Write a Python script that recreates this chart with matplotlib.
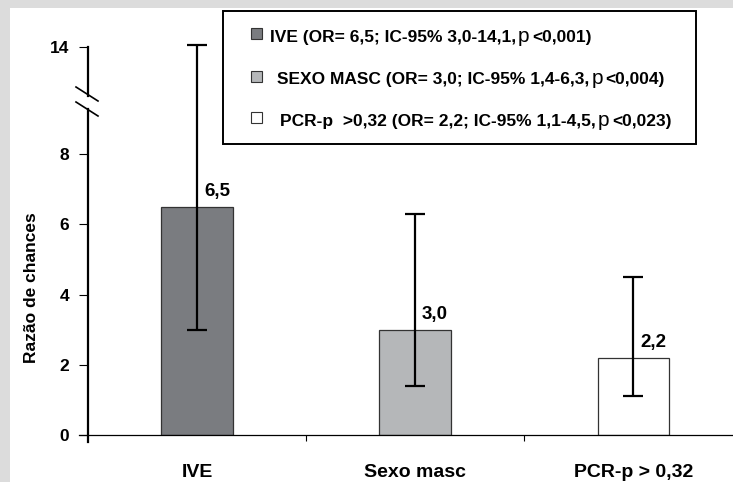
import numpy as np
import matplotlib.pyplot as plt
from matplotlib.patches import Rectangle
from matplotlib.transforms import offset_copy

plt.rcParams['font.family'] = ['Liberation Sans', 'DejaVu Sans']

categories = ['IVE', 'Sexo masc', 'PCR-p > 0,32']
odds_ratio = [6.5, 3.0, 2.2]
ci_low = [3.0, 1.4, 1.1]
ci_high = [14.1, 6.3, 4.5]
value_labels = ['6,5', '3,0', '2,2']
bar_colors = ['#7a7c80', '#b5b7b9', '#ffffff']
yticks = [0, 2, 4, 6, 8, 14]

legend_rows = [
    ('IVE (OR= 6,5; IC-95% 3,0-14,1,', '<0,001)'),
    ('SEXO MASC (OR= 3,0; IC-95% 1,4-6,3,', '<0,004)'),
    ('PCR-p  >0,32 (OR= 2,2; IC-95% 1,1-4,5,', '<0,023)'),
]

# broken y axis: above 8 the scale is compressed
K = 0.508


def fwd(y):
    y = np.asarray(y, dtype=float)
    return np.where(y <= 8, y, 8 + (y - 8) * K)


def inv(y):
    y = np.asarray(y, dtype=float)
    return np.where(y <= 8, y, 8 + (y - 8) / K)


W, H = 733, 482
fig = plt.figure(figsize=(W / 100, H / 100), dpi=100)
fig.patch.set_facecolor('#dcdcdc')
fig.patches.append(Rectangle((10 / W, 0), 1, (H - 8) / H, transform=fig.transFigure,
                             facecolor='white', edgecolor='none', zorder=-1))

ax = fig.add_axes([88 / W, 47 / H, (W - 88) / W, 388 / H])
ax.set_facecolor('none')
ax.set_yscale('function', functions=(fwd, inv))
ax.set_ylim(0, 14)
ax.set_xlim(-0.5, (W - 196) / 218.5)

x = np.arange(len(categories))
ax.bar(x, odds_ratio, width=0.327, color=bar_colors, edgecolor='#333333',
       linewidth=0.9, zorder=2)
ax.errorbar(x, odds_ratio,
            yerr=[np.array(odds_ratio) - ci_low, np.array(ci_high) - odds_ratio],
            fmt='none', ecolor='black', elinewidth=1.6, capsize=7.5, capthick=1.6,
            clip_on=False, zorder=3)
for i, (v, lab) in enumerate(zip(odds_ratio, value_labels)):
    ax.annotate(lab, (i, v), xytext=(5, 5), textcoords='offset points',
                ha='left', va='bottom', fontsize=13.5, fontweight='bold')

for s in ax.spines.values():
    s.set_visible(False)

# axis lines drawn by hand so the break can be shown
tr = ax.transAxes
ax.plot([-9 / 645, 1], [0, 0], color='black', lw=0.9, transform=tr, clip_on=False)
ax.plot([0, 0], [1, (435 - 96) / 388], color='black', lw=1.6, transform=tr, clip_on=False)
ax.plot([0, 0], [(435 - 109) / 388, -7 / 388], color='black', lw=1.6, transform=tr,
        clip_on=False)
for y0 in (87, 102):
    ax.plot([-12 / 645, 10 / 645], [(435 - y0) / 388, (435 - y0 - 14) / 388],
            color='black', lw=1.2, transform=tr, clip_on=False)

ax.set_yticks(yticks)
ax.set_yticklabels([str(t) for t in yticks])
ax.yaxis.set_minor_locator(plt.NullLocator())
ax.tick_params(axis='y', direction='out', length=6.5, width=0.8, pad=7,
               labelsize=12.5)
for t in ax.get_yticklabels():
    t.set_fontweight('bold')

ax.set_xticks(x)
ax.set_xticklabels(categories, fontsize=14, fontweight='bold')
ax.set_xticks([0.5, 1.5], minor=True)
ax.tick_params(axis='x', which='major', length=0, pad=21)
ax.tick_params(axis='x', which='minor', direction='out', length=4.5, width=0.8)

ax.text(-0.088, 0.379, 'Razão de chances', transform=tr, rotation=90,
        ha='center', va='center', fontsize=12.5, fontweight='bold')

# legend box with mixed-style text
fig.patches.append(Rectangle((223 / W, 1 - 144 / H), (696 - 223) / W, (144 - 11) / H,
                             transform=fig.transFigure, facecolor='white',
                             edgecolor='black', linewidth=1.4, zorder=5))
renderer = fig.canvas.get_renderer()
sq_tops = [28, 71, 112]
text_x = [270, 277, 280]
baselines = [42, 84, 126]
for (bold_part, tail), color, st, tx, bl in zip(legend_rows, bar_colors, sq_tops,
                                                text_x, baselines):
    fig.patches.append(Rectangle((251 / W, 1 - (st + 11) / H), 11 / W, 11 / H,
                                 transform=fig.transFigure, facecolor=color,
                                 edgecolor='#333333', linewidth=0.8, zorder=6))
    t1 = fig.text(tx / W, 1 - bl / H, bold_part, fontsize=12.5, fontweight='bold',
                  va='baseline', ha='left', zorder=7)
    w1 = t1.get_window_extent(renderer).width
    t2 = fig.text(tx / W, 1 - bl / H, 'p', fontsize=15,
                  va='baseline', ha='left', zorder=7,
                  transform=offset_copy(fig.transFigure, fig, x=w1 + 2, units='dots'))
    w2 = t2.get_window_extent(renderer).width
    fig.text(tx / W, 1 - bl / H, tail, fontsize=12.5, fontweight='bold',
             va='baseline', ha='left', zorder=7,
             transform=offset_copy(fig.transFigure, fig, x=w1 + w2 + 5, units='dots'))

fig.savefig('out.png', dpi=100, facecolor=fig.get_facecolor())
